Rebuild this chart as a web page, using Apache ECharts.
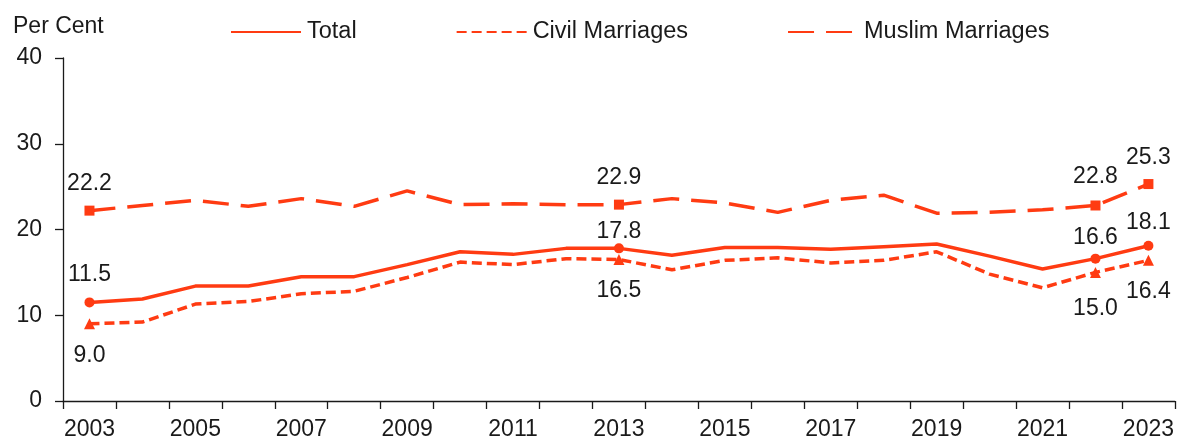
<!DOCTYPE html>
<html>
<head>
<meta charset="utf-8">
<script src="https://cdn.jsdelivr.net/npm/echarts@6/dist/echarts.min.js"></script>
<style>
html,body{margin:0;padding:0;background:#fff;}
#chart{width:1177px;height:441px;}
</style>
</head>
<body>
<div id="chart"></div>
<script>
const years = ['2003','2004','2005','2006','2007','2008','2009','2010','2011','2012','2013','2014','2015','2016','2017','2018','2019','2020','2021','2022','2023'];
const total  = [11.5, 11.9, 13.4, 13.4, 14.5, 14.5, 15.9, 17.4, 17.1, 17.8, 17.8, 17.0, 17.9, 17.9, 17.7, 18.0, 18.3, 16.9, 15.4, 16.6, 18.1];
const civil  = [9.0, 9.2, 11.3, 11.6, 12.5, 12.8, 14.4, 16.2, 15.9, 16.6, 16.5, 15.3, 16.4, 16.7, 16.1, 16.4, 17.4, 14.8, 13.2, 15.0, 16.4];
const muslim = [22.2, 22.8, 23.4, 22.7, 23.6, 22.7, 24.5, 22.9, 23.0, 22.9, 22.9, 23.6, 23.1, 22.0, 23.4, 24.0, 21.9, 22.0, 22.3, 22.8, 25.3];
const yTicks = [0, 10, 20, 30, 40];
const labelledIdx = [0, 10, 19, 20];

const RED = '#ff3b12';
const TXT = '#1a1a1a';
const FONT = '"Liberation Sans", Arial, sans-serif';
const FS = 23;

// label placement per series (style only)
const labelPlace = {
  total:  {pos: 'top',    dist: [11, 0.5, 4.5, 7]},
  civil:  {pos: 'bottom', dist: [15, 14.5, 19, 14.5]},
  muslim: {pos: 'top',    dist: [10, 10.5, 12.5, 10]}
};

function buildData(values, symbol, place) {
  return values.map((v, i) => {
    const k = labelledIdx.indexOf(i);
    if (k < 0) return {value: v, symbol: 'none'};
    return {
      value: v,
      symbol: symbol,
      symbolSize: symbol === 'triangle' ? 11 : 10,
      label: {show: true, position: place.pos, distance: place.dist[k],
               formatter: (p) => p.value.toFixed(1)}
    };
  });
}

const chart = echarts.init(document.getElementById('chart'), null, {renderer: 'canvas'});
const baseLabel = {fontSize: FS, color: TXT, fontFamily: FONT};

chart.setOption({
  animation: false,
  backgroundColor: '#fff',
  textStyle: {fontFamily: FONT},
  title: {
    text: 'Per Cent', left: 13, top: 15, padding: 0,
    textStyle: {fontSize: FS, fontWeight: 'normal', color: TXT, fontFamily: FONT}
  },
  legend: {
    left: 230, top: 20, padding: 0,
    itemWidth: 70, itemHeight: 14, itemGap: 99,
    textStyle: {fontSize: 23.5, color: TXT, fontFamily: FONT, padding: [0, 0, 0, 1]},
    itemStyle: {opacity: 0},
    data: ['Total', 'Civil Marriages', 'Muslim Marriages']
  },
  grid: {left: 63, right: 2, top: 58, bottom: 38, containLabel: false},
  xAxis: {
    type: 'category', data: years, boundaryGap: true,
    axisLine: {lineStyle: {color: TXT, width: 1.3}},
    axisTick: {show: true, interval: 0, length: 8, inside: false, lineStyle: {color: TXT, width: 1.3}},
    axisLabel: {interval: 1, margin: 17, fontSize: FS, color: TXT, fontFamily: FONT},
    splitLine: {show: false}
  },
  yAxis: {
    type: 'value', min: yTicks[0], max: yTicks[yTicks.length - 1], interval: yTicks[1] - yTicks[0],
    axisLine: {show: true, lineStyle: {color: TXT, width: 1.3}},
    axisTick: {show: true, length: 8, lineStyle: {color: TXT, width: 1.3}},
    axisLabel: {margin: 21, fontSize: FS, color: TXT, fontFamily: FONT},
    splitLine: {show: false}
  },
  series: [
    {
      name: 'Total', type: 'line', symbol: 'circle', showAllSymbol: true,
      data: buildData(total, 'circle', labelPlace.total),
      lineStyle: {color: RED, width: 3.5, type: 'solid'},
      itemStyle: {color: RED},
      label: baseLabel,
      emphasis: {disabled: true}, z: 3
    },
    {
      name: 'Civil Marriages', type: 'line', symbol: 'triangle', showAllSymbol: true,
      data: buildData(civil, 'triangle', labelPlace.civil),
      lineStyle: {color: RED, width: 3.5, type: [10, 5], cap: 'butt'},
      itemStyle: {color: RED},
      label: baseLabel,
      emphasis: {disabled: true}, z: 2
    },
    {
      name: 'Muslim Marriages', type: 'line', symbol: 'rect', showAllSymbol: true,
      data: buildData(muslim, 'rect', labelPlace.muslim),
      lineStyle: {color: RED, width: 3.5, type: [26, 12], cap: 'butt'},
      itemStyle: {color: RED},
      label: baseLabel,
      emphasis: {disabled: true}, z: 2
    }
  ]
});
</script>
</body>
</html>
